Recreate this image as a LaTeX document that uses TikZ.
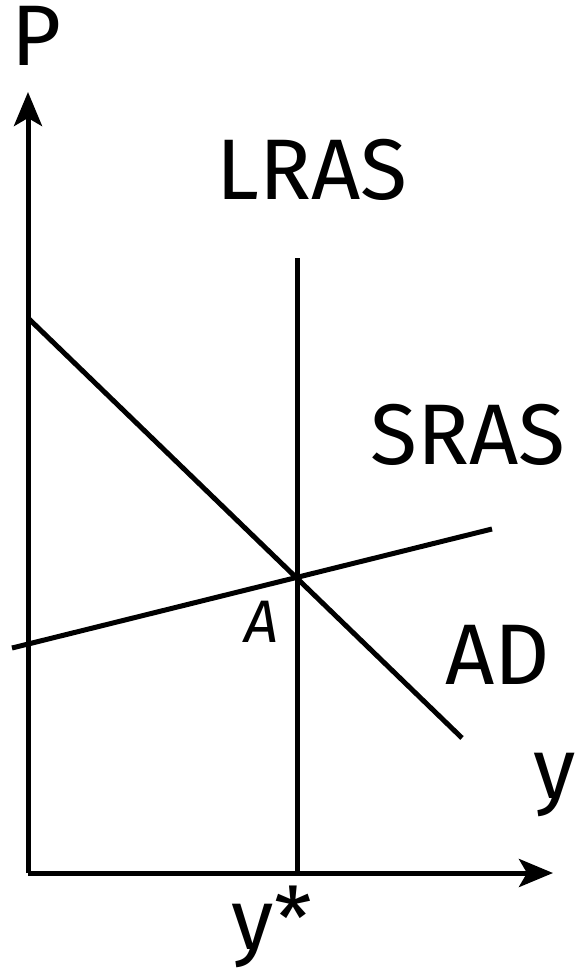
\documentclass[tikz,border=0pt]{standalone}
\usepackage{fontspec}
\setmainfont{Fira Sans}
\usetikzlibrary{arrows.meta}
\begin{document}
\begin{tikzpicture}[x=1pt,y=-1pt,
  curve/.style={line width=5pt, line cap=butt},
  axis/.style={line width=5pt, -{Stealth[length=34pt,width=28pt,inset=8pt]}},
  lbl/.style={font=\fontsize{86}{96}\selectfont, inner sep=0pt},
  smalllbl/.style={font=\fontsize{60}{66}\selectfont\itshape, inner sep=0pt}]
\useasboundingbox (0,0) rectangle (577,975);
\coordinate (O) at (28,873);
\coordinate (Ptop) at (28,92);
\coordinate (Xend) at (553,873);
\coordinate (lrasTop) at (297,258);
\coordinate (lrasBot) at (297,873);
\coordinate (adA) at (28,318);
\coordinate (adB) at (462,738);
\coordinate (srasA) at (12,648);
\coordinate (srasB) at (492,529);
\draw[axis] (O) -- (Ptop);
\draw[axis] (O) -- (Xend);
\draw[curve] (lrasTop) -- (lrasBot);
\draw[curve] (adA) -- (adB);
\draw[curve] (srasA) -- (srasB);
\node[lbl, anchor=north] (P) at (36,6) {P};
\node[lbl] (LRAS) at (312,170) {LRAS};
\node[lbl] (SRAS) at (468,435) {SRAS};
\node[lbl] (AD) at (498,655) {AD};
\node[smalllbl] (A) at (262,622) {A};
\node[lbl, anchor=south] (ystar) at (272,968) {y*};
\node[lbl, anchor=east] (Y) at (576,785) {y};
\end{tikzpicture}
\end{document}
